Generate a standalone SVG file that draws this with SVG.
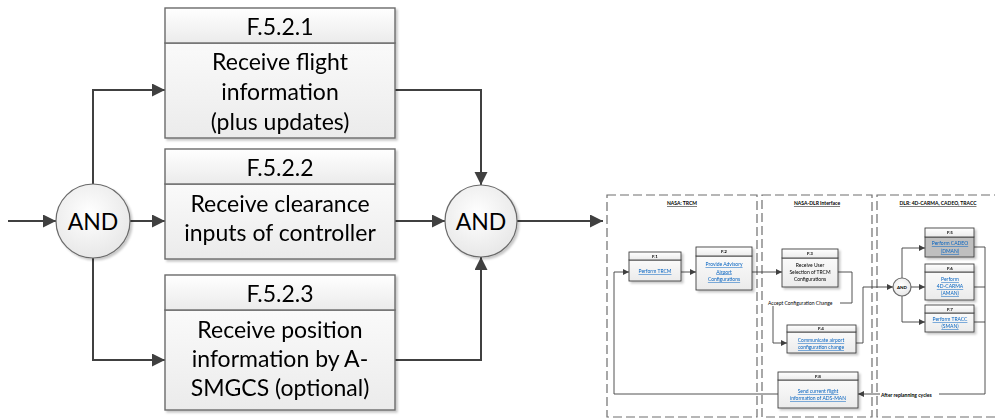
<svg xmlns="http://www.w3.org/2000/svg" width="995" height="418" viewBox="0 0 995 418">
<defs>
<linearGradient id="hg" x1="0" y1="0" x2="0" y2="1"><stop offset="0" stop-color="#ffffff"/><stop offset="1" stop-color="#ebebeb"/></linearGradient>
<linearGradient id="bg" x1="0" y1="0" x2="0" y2="1"><stop offset="0" stop-color="#fafafa"/><stop offset="1" stop-color="#ebebeb"/></linearGradient>
<radialGradient id="cg" cx="0.45" cy="0.4" r="0.65"><stop offset="0" stop-color="#ffffff"/><stop offset="1" stop-color="#e6e6e6"/></radialGradient>
<filter id="sh" x="-10%" y="-10%" width="130%" height="130%"><feDropShadow dx="2" dy="2" stdDeviation="1.2" flood-color="#000" flood-opacity="0.22"/></filter>
<marker id="a" markerUnits="userSpaceOnUse" markerWidth="14" markerHeight="14" refX="13" refY="6.5" orient="auto"><path d="M0,0 L13,6.5 L0,13 Z" fill="#404040"/></marker>
<marker id="s" markerUnits="userSpaceOnUse" markerWidth="7" markerHeight="7" refX="6" refY="3" orient="auto"><path d="M0,0 L6,3 L0,6 Z" fill="#404040"/></marker>
<style>
.bh{fill:url(#hg);stroke:#6b6b6b;stroke-width:1.4}
.bb{fill:url(#bg);stroke:#6b6b6b;stroke-width:1.4}
.t{font-family:Lato,"Liberation Sans",sans-serif;font-size:23px;fill:#000;text-anchor:middle}
.c{fill:url(#cg);stroke:#6b6b6b;stroke-width:1.2}
.ln{fill:none;stroke:#404040;stroke-width:2}
.lane{fill:none;stroke:#6e6e6e;stroke-width:1.2;stroke-dasharray:9 4}
.ih{fill:url(#hg);stroke:#404040;stroke-width:0.9}
.ib{fill:url(#bg);stroke:#404040;stroke-width:0.9}
.ig{fill:#bfbfbf;stroke:#404040;stroke-width:0.9}
.it{font-family:Lato,"Liberation Sans",sans-serif;font-size:5px;fill:#000;text-anchor:middle}
.ihd{font-family:Lato,"Liberation Sans",sans-serif;font-size:4.5px;font-weight:bold;fill:#000;text-anchor:middle}
.lk{font-family:Lato,"Liberation Sans",sans-serif;font-size:5px;fill:#0563c1;text-anchor:middle;text-decoration:underline}
.ttl{font-family:Lato,"Liberation Sans",sans-serif;font-size:5px;font-weight:bold;fill:#000;text-anchor:middle;text-decoration:underline}
.il{fill:none;stroke:#404040;stroke-width:0.9}
.lb{font-family:Lato,"Liberation Sans",sans-serif;font-size:5px;fill:#000}
</style>
</defs>

<g id="connectors">
<path class="ln" d="M8,221 H56" marker-end="url(#a)"/>
<path class="ln" d="M93,184 V90 H165" marker-end="url(#a)"/>
<path class="ln" d="M130,221 H165" marker-end="url(#a)"/>
<path class="ln" d="M93,258 V360 H165" marker-end="url(#a)"/>
<path class="ln" d="M395,90 H481 V185" marker-end="url(#a)"/>
<path class="ln" d="M395,221 H445" marker-end="url(#a)"/>
<path class="ln" d="M395,360 H481 V257" marker-end="url(#a)"/>
<path class="ln" d="M517,221 H603" marker-end="url(#a)"/>
</g>

<g id="and1"><circle class="c" cx="93" cy="221" r="37" filter="url(#sh)"/><text class="t" x="93" y="230" font-size="26">AND</text></g>
<g id="and2"><circle class="c" cx="481" cy="221" r="36" filter="url(#sh)"/><text class="t" x="481" y="230" font-size="26">AND</text></g>

<g id="f521" filter="url(#sh)">
<rect class="bb" x="165" y="43" width="230" height="95"/>
<rect class="bh" x="165" y="8" width="230" height="35"/>
<text class="t" x="280" y="35">F.5.2.1</text>
<text class="t" x="280" y="70">Receive flight</text>
<text class="t" x="280" y="100">information</text>
<text class="t" x="280" y="130">(plus updates)</text>
</g>
<g id="f522" filter="url(#sh)">
<rect class="bb" x="165" y="184" width="230" height="75"/>
<rect class="bh" x="165" y="149" width="230" height="35"/>
<text class="t" x="280" y="176">F.5.2.2</text>
<text class="t" x="280" y="212">Receive clearance</text>
<text class="t" x="280" y="241">inputs of controller</text>
</g>
<g id="f523" filter="url(#sh)">
<rect class="bb" x="165" y="310" width="230" height="100"/>
<rect class="bh" x="165" y="275" width="230" height="35"/>
<text class="t" x="280" y="302">F.5.2.3</text>
<text class="t" x="280" y="338">Receive position</text>
<text class="t" x="280" y="367">information by A-</text>
<text class="t" x="280" y="396">SMGCS (optional)</text>
</g>

<g id="inset">
<rect class="lane" x="607" y="195" width="150" height="222"/>
<rect class="lane" x="762" y="195" width="110" height="222"/>
<rect class="lane" x="877" y="195" width="130" height="222"/>
<text class="ttl" x="682" y="205">NASA: TRCM</text>
<text class="ttl" x="817" y="205">NASA-DLR Interface</text>
<text class="ttl" x="938" y="205">DLR: 4D-CARMA, CADEO, TRACC</text>
</g>

<g id="inset-connectors">
<path class="il" d="M681,272 H696" marker-end="url(#s)"/>
<path class="il" d="M752,272 H782" marker-end="url(#s)"/>
<path class="il" d="M838,272 H852 V303 H773 V343 H787" marker-end="url(#s)"/>
<path class="il" d="M856,343 H863 V287 H893" marker-end="url(#s)"/>
<path class="il" d="M902,278 V248 H925" marker-end="url(#s)"/>
<path class="il" d="M911,287 H925" marker-end="url(#s)"/>
<path class="il" d="M902,296 V322 H925" marker-end="url(#s)"/>
<path class="il" d="M974,247 H985 M974,287 H985 M974,322 H985"/>
<path class="il" d="M985,247 V394 H858" marker-end="url(#s)"/>
<path class="il" d="M778,394 H614 V272 H629" marker-end="url(#s)"/>
<rect x="767" y="300" width="73" height="6" fill="#fff"/>
<text class="lb" x="768" y="305">Accept Configuration Change</text>
<rect x="880" y="392" width="59" height="6" fill="#fff"/>
<text class="lb" x="881" y="397" font-weight="bold">After replanning cycles</text>
</g>

<g id="n-f1" filter="url(#sh)"><rect class="ib" x="629" y="260" width="52" height="21"/><rect class="ih" x="629" y="252" width="52" height="8"/><text class="ihd" x="655" y="257.7">F.1</text><text class="lk" x="655" y="273">Perform TRCM</text></g>
<g id="n-f2" filter="url(#sh)"><rect class="ib" x="696" y="256" width="56" height="34"/><rect class="ih" x="696" y="247" width="56" height="9"/><text class="ihd" x="724" y="253.2">F.2</text><text class="lk" x="724" y="266">Provide Advisory</text><text class="lk" x="724" y="273.5">Airport</text><text class="lk" x="724" y="281">Configurations</text></g>
<g id="n-f3" filter="url(#sh)"><rect class="ib" x="782" y="258" width="56" height="29"/><rect class="ih" x="782" y="249" width="56" height="9"/><text class="ihd" x="810" y="255.2">F.3</text><text class="it" x="810" y="267">Receive User</text><text class="it" x="810" y="274">Selection of TRCM</text><text class="it" x="810" y="281">Configurations</text></g>
<g id="n-f4" filter="url(#sh)"><rect class="ib" x="787" y="332" width="69" height="21"/><rect class="ih" x="787" y="325" width="69" height="7"/><text class="ihd" x="821" y="330.2">F.4</text><text class="lk" x="821" y="342">Communicate airport</text><text class="lk" x="821" y="349">configuration change</text></g>
<g id="n-f8" filter="url(#sh)"><rect class="ib" x="778" y="380" width="80" height="28"/><rect class="ih" x="778" y="372" width="80" height="8"/><text class="ihd" x="818" y="377.7">F.8</text><text class="lk" x="818" y="393">Send current flight</text><text class="lk" x="818" y="400">information of ADS-MAN</text></g>
<g id="n-and3"><circle class="c" cx="902" cy="287" r="9" stroke-width="0.9"/><text class="ihd" x="902" y="288.7" font-weight="normal">AND</text></g>
<g id="n-f5" filter="url(#sh)"><rect class="ig" x="925" y="237" width="49" height="20"/><rect class="ih" x="925" y="228" width="49" height="9"/><text class="ihd" x="950" y="234.2">F.5</text><text class="lk" x="950" y="245">Perform CADEO</text><text class="lk" x="950" y="253">(DMAN)</text></g>
<g id="n-f6" filter="url(#sh)"><rect class="ib" x="925" y="272" width="49" height="28"/><rect class="ih" x="925" y="264" width="49" height="8"/><text class="ihd" x="950" y="269.7">F.6</text><text class="lk" x="950" y="281">Perform</text><text class="lk" x="950" y="288">4D-CARMA</text><text class="lk" x="950" y="295">(AMAN)</text></g>
<g id="n-f7" filter="url(#sh)"><rect class="ib" x="925" y="313" width="49" height="19"/><rect class="ih" x="925" y="305" width="49" height="8"/><text class="ihd" x="950" y="310.7">F.7</text><text class="lk" x="950" y="321">Perform TRACC</text><text class="lk" x="950" y="328">(SMAN)</text></g>
</svg>
